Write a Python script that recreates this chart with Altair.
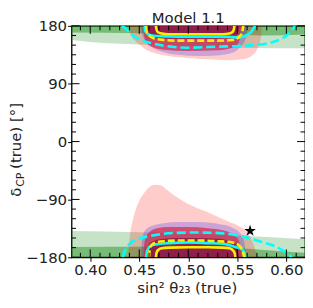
import altair as alt
import pandas as pd

W, H = 235, 233
X_DOMAIN = [0.381, 0.619]
Y_DOMAIN = [-180, 180]
FONT = "DejaVu Sans"
TXT = "#222222"

# ---- tick values ----
X_MAJOR = [0.40, 0.45, 0.50, 0.55, 0.60]
X_MINOR = [0.39, 0.41, 0.42, 0.43, 0.44, 0.46, 0.47, 0.48, 0.49, 0.51, 0.52, 0.53, 0.54,
           0.56, 0.57, 0.58, 0.59, 0.61]
Y_MAJOR = [-180, -90, 0, 90, 180]
Y_MINOR = [-165, -150, -135, -120, -105, -75, -60, -45, -30, -15,
           15, 30, 45, 60, 75, 105, 120, 135, 150, 165]

# ---- green bands (wrap around +-180) ----
LG_TOP_X = [0.381, 0.40, 0.45, 0.50, 0.55, 0.619]
LG_TOP_Y = [158, 155, 151, 148, 146, 145]
DG_TOP_X = [0.381, 0.45, 0.50, 0.55, 0.575, 0.619]
DG_TOP_Y = [169.5, 168.5, 167.5, 166.5, 165, 166.5]
LG_BOT_X = [0.381, 0.45, 0.50, 0.56, 0.619]
LG_BOT_Y = [-139, -141, -143, -147, -152]
DG_BOT_X = [0.381, 0.45, 0.50, 0.55, 0.57, 0.60, 0.619]
DG_BOT_Y = [-164, -163.5, -164, -166, -168, -171, -173]

# ---- light red region ----
PINK_BOT_X = [0.4385, 0.4395, 0.441, 0.443, 0.446, 0.450, 0.455, 0.460, 0.466, 0.472, 0.478,
              0.485, 0.500, 0.520, 0.530, 0.540, 0.550, 0.558, 0.563, 0.567, 0.5695, 0.5705]
PINK_BOT_Y = [-180, -160, -140, -125, -108, -92, -80, -71, -67, -68, -75,
              -83, -97, -110, -117, -124, -130, -138, -148, -162, -175, -180]
PINK_TOP_X = [0.439, 0.440, 0.442, 0.445, 0.450, 0.457, 0.467, 0.480, 0.500, 0.520, 0.540,
              0.555, 0.565, 0.570, 0.573, 0.5745, 0.575]
PINK_TOP_Y = [180, 172, 164, 158, 151, 143, 137, 133, 130, 128, 126.5,
              128, 134, 143, 155, 168, 180]

# ---- blue region ----
BLUE_BOT_X = [0.452, 0.4525, 0.454, 0.458, 0.465, 0.475, 0.49, 0.51, 0.53, 0.545, 0.552, 0.556, 0.558, 0.559]
BLUE_BOT_Y = [-180, -160, -145, -135, -130, -127, -125, -125, -128, -134, -141, -150, -165, -180]
BLUE_TOP_X = [0.452, 0.4525, 0.455, 0.462, 0.475, 0.49, 0.51, 0.53, 0.545, 0.553, 0.558, 0.5595, 0.56]
BLUE_TOP_Y = [180, 170, 160, 148, 139, 135, 133, 134, 138, 147, 158, 170, 180]

# ---- crimson region ----
RED_BOT_X = [0.4545, 0.455, 0.457, 0.461, 0.468, 0.48, 0.50, 0.52, 0.54, 0.549, 0.553, 0.5545]
RED_BOT_Y = [-180, -162, -148, -140, -135, -133, -133, -135, -140, -148, -162, -180]
RED_TOP_X = [0.4545, 0.455, 0.457, 0.462, 0.475, 0.50, 0.53, 0.545, 0.551, 0.553, 0.554]
RED_TOP_Y = [180, 165, 155, 148, 143, 141, 142, 146, 153, 165, 180]

# ---- maroon region ----
MAR_BOT_X = [0.4575, 0.458, 0.460, 0.464, 0.472, 0.49, 0.51, 0.53, 0.543, 0.549, 0.551, 0.552]
MAR_BOT_Y = [-180, -168, -160, -155, -152, -150, -150, -151, -155, -161, -170, -180]
MAR_TOP_X = [0.4575, 0.458, 0.461, 0.467, 0.48, 0.50, 0.52, 0.54, 0.548, 0.551, 0.552]
MAR_TOP_Y = [180, 170, 164, 161, 160, 160, 160, 161, 164, 170, 180]

# ---- contour lines ----
YS_BOT_X = [0.467, 0.4675, 0.469, 0.473, 0.48, 0.50, 0.52, 0.535, 0.542, 0.546, 0.5475, 0.548]
YS_BOT_Y = [-180, -174, -169, -166, -165, -164.5, -164.5, -165, -166, -170, -175, -180]
YS_TOP_X = [0.467, 0.4675, 0.469, 0.473, 0.48, 0.50, 0.52, 0.535, 0.542, 0.5455, 0.5465, 0.547]
YS_TOP_Y = [180, 175, 170, 168, 167, 167, 167, 167, 168, 171, 175, 180]
YD_BOT_X = [0.460, 0.4605, 0.462, 0.467, 0.475, 0.49, 0.51, 0.53, 0.545, 0.552, 0.5555, 0.557]
YD_BOT_Y = [-180, -170, -162, -157, -155, -154, -154, -155, -157, -162, -170, -180]
YD_TOP_X = [0.457, 0.4575, 0.460, 0.466, 0.475, 0.49, 0.51, 0.53, 0.545, 0.551, 0.555, 0.556]
YD_TOP_Y = [180, 172, 165, 160, 158, 157, 157, 157, 158, 162, 170, 180]
CS_BOT_X = [0.457, 0.458, 0.461, 0.467, 0.48, 0.50, 0.52, 0.535, 0.548, 0.555, 0.5575, 0.559]
CS_BOT_Y = [-180, -170, -163, -160, -158, -157, -158, -159, -164, -168, -174, -180]
CS_TOP_X = [0.4555, 0.456, 0.459, 0.465, 0.48, 0.50, 0.52, 0.54, 0.552, 0.560, 0.565, 0.568]
CS_TOP_Y = [180, 172, 167, 164.5, 163.5, 163, 163, 163, 162, 166, 172, 180]
CD_BOT_X = [0.433, 0.437, 0.4438, 0.4606, 0.4876, 0.505, 0.528, 0.545, 0.5616, 0.5785,
            0.5886, 0.595, 0.600, 0.6055]
CD_BOT_Y = [-180, -165, -155, -147, -142, -141.5, -142, -144.5, -150, -158,
            -163, -168, -173, -180]
CD_TOP_X = [0.432, 0.4354, 0.441, 0.447, 0.4606, 0.4775, 0.4977, 0.5296, 0.563, 0.583,
            0.597, 0.605, 0.609]
CD_TOP_Y = [180, 176.9, 168, 161.5, 153.7, 148.6, 146, 147.6, 149.6, 153.7,
            161.5, 171.8, 180]

# ---- best fit ----
STAR_X = [0.563]
STAR_Y = [-139]

TITLE = ["Model 1.1"]
X_TITLE = "sin\u00b2 \u03b8\u2082\u2083 (true)"
Y_TITLE_PARTS = ["\u03b4", "CP", "(true) [\u00b0]"]

xscale = alt.Scale(domain=X_DOMAIN, nice=False, zero=False)
yscale = alt.Scale(domain=Y_DOMAIN, nice=False, zero=False)
xaxis = alt.Axis(values=X_MAJOR, format=".2f", grid=False, domain=False, tickSize=4,
                 tickColor="black", labelPadding=1, labelFont=FONT, labelFontSize=15,
                 labelColor=TXT, title=X_TITLE, titleFont=FONT, titleFontSize=15,
                 titleFontWeight="normal", titleColor=TXT, titleX=116, titleY=35,
                 titleBaseline="alphabetic", titleAlign="center")
yaxis = alt.Axis(values=Y_MAJOR, grid=False, domain=False, tickSize=4, tickColor="black",
                 labelPadding=1, labelFont=FONT, labelFontSize=15, labelColor=TXT, title=None)
X = alt.X("x:Q", scale=xscale, axis=xaxis)
Y = alt.Y("y:Q", scale=yscale, axis=yaxis)


def area(xs, ys, base, color, opacity):
    df = pd.DataFrame({"x": xs, "y": ys, "y2": [base] * len(xs)})
    return alt.Chart(df).mark_area(color=color, opacity=opacity, orient="vertical",
                                   clip=True, interpolate="monotone").encode(
        x=X, y=Y, y2=alt.Y2("y2:Q"))


def line(xs, ys, color, dash=None, width=2.6):
    df = pd.DataFrame({"x": xs, "y": ys, "i": list(range(len(xs)))})
    kw = dict(color=color, strokeWidth=width, clip=True, interpolate="monotone")
    if dash:
        kw["strokeDash"] = dash
    return alt.Chart(df).mark_line(**kw).encode(x=X, y=Y, order="i:Q")


def xticks(vals, length, bottom):
    df = pd.DataFrame({"x": vals})
    if bottom:
        yy, yy2 = H, H - length
    else:
        yy, yy2 = 0, length
    return alt.Chart(df).mark_rule(color="black", strokeWidth=1).encode(
        x=X, y=alt.value(yy), y2=alt.value(yy2))


def yticks(vals, length, left):
    df = pd.DataFrame({"y": vals})
    if left:
        xx, xx2 = 0, length
    else:
        xx, xx2 = W, W - length
    return alt.Chart(df).mark_rule(color="black", strokeWidth=1).encode(
        y=Y, x=alt.value(xx), x2=alt.value(xx2))


GREEN = "#008000"
layers = [
    area(LG_TOP_X, LG_TOP_Y, 180, GREEN, 0.22),
    area(LG_BOT_X, LG_BOT_Y, -180, GREEN, 0.22),
    area(DG_TOP_X, DG_TOP_Y, 180, GREEN, 0.40),
    area(DG_BOT_X, DG_BOT_Y, -180, GREEN, 0.40),
    area(PINK_TOP_X, PINK_TOP_Y, 180, "#ff0000", 0.2),
    area(PINK_BOT_X, PINK_BOT_Y, -180, "#ff0000", 0.2),
    area(BLUE_TOP_X, BLUE_TOP_Y, 180, "#0000ff", 0.2),
    area(BLUE_BOT_X, BLUE_BOT_Y, -180, "#0000ff", 0.2),
    area(RED_TOP_X, RED_TOP_Y, 180, "#d22846", 0.7),
    area(RED_BOT_X, RED_BOT_Y, -180, "#d22846", 0.7),
    area(MAR_TOP_X, MAR_TOP_Y, 180, "#821446", 0.75),
    area(MAR_BOT_X, MAR_BOT_Y, -180, "#821446", 0.75),
    line(CD_TOP_X, CD_TOP_Y, "#00ffff", [9, 4]),
    line(CD_BOT_X, CD_BOT_Y, "#00ffff", [9, 4]),
    line(CS_TOP_X, CS_TOP_Y, "#00ffff"),
    line(CS_BOT_X, CS_BOT_Y, "#00ffff"),
    line(YD_TOP_X, YD_TOP_Y, "#ffee00", [7, 3]),
    line(YD_BOT_X, YD_BOT_Y, "#ffee00", [7, 3]),
    line(YS_TOP_X, YS_TOP_Y, "#ffee00"),
    line(YS_BOT_X, YS_BOT_Y, "#ffee00"),
]

STAR = ("M0,-1L0.2245,-0.309L0.951,-0.309L0.363,0.118L0.588,0.809L0,0.382"
        "L-0.588,0.809L-0.363,0.118L-0.951,-0.309L-0.2245,-0.309Z")
layers.append(alt.Chart(pd.DataFrame({"x": STAR_X, "y": STAR_Y})).mark_point(
    shape=STAR, filled=True, color="black", opacity=1, size=150).encode(x=X, y=Y))

layers += [
    xticks(X_MAJOR, 8, True), xticks(X_MINOR, 4.5, True),
    xticks(X_MAJOR, 8, False), xticks(X_MINOR, 4.5, False),
    yticks(Y_MAJOR, 8, True), yticks(Y_MINOR, 4.5, True),
    yticks(Y_MAJOR, 8, False), yticks(Y_MINOR, 4.5, False),
]


def text(t, size, xpos, ypos, angle=0, align="left"):
    return alt.Chart(pd.DataFrame({"t": [t]})).mark_text(
        angle=angle, align=align, baseline="alphabetic", font=FONT, fontSize=size,
        color=TXT).encode(text="t:N", x=alt.value(xpos), y=alt.value(ypos))

# y-axis title built from pieces (subscript CP), chart title as text
layers += [
    text(Y_TITLE_PARTS[0], 15, -51, 172, angle=270),
    text(Y_TITLE_PARTS[1], 11, -48, 162, angle=270),
    text(Y_TITLE_PARTS[2], 15, -51, 144, angle=270),
    text(TITLE[0], 15, W / 2, -3, align="center"),
]

chart = alt.layer(*layers).properties(
    width=W, height=H,
    autosize=alt.AutoSizeParams(type="none"),
    padding={"left": 64, "top": 17, "right": 0, "bottom": 38},
).configure_view(stroke="black", strokeWidth=1.3)

chart.save("out.html", embed_options={"renderer": "svg", "actions": False})
